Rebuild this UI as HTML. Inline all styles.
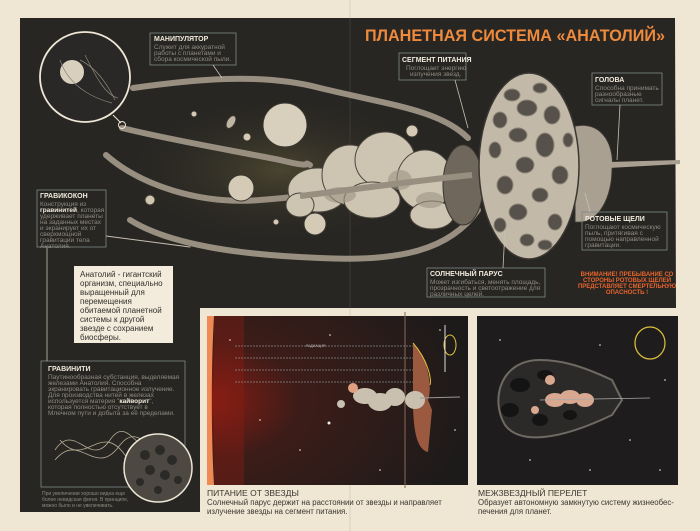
<!DOCTYPE html>
<html><head><meta charset="utf-8">
<style>
html,body{margin:0;padding:0;background:#efe7d3;}
svg{display:block;font-family:"Liberation Sans","DejaVu Sans",sans-serif;}
</style></head>
<body>
<svg width="700" height="531" viewBox="0 0 700 531" xmlns="http://www.w3.org/2000/svg">
<defs>
<radialGradient id="sun" cx="0" cy="0.5" r="1">
<stop offset="0" stop-color="#8a1d14"/><stop offset="0.35" stop-color="#3d1c18"/><stop offset="1" stop-color="#1d1b1a"/>
</radialGradient>
<radialGradient id="glow" cx="0.5" cy="0.5" r="0.5">
<stop offset="0" stop-color="#4a4530"/><stop offset="1" stop-color="#262420" stop-opacity="0"/>
</radialGradient>
</defs>
<rect width="700" height="531" fill="#efe7d3"/>
<line x1="350" y1="0" x2="350" y2="531" stroke="#d9d0bc" stroke-width="1"/>
<path d="M20 18 L675 18 L676 308 L200 308 L200 512 L20 512 Z" fill="#282623"/>
<ellipse cx="280" cy="170" rx="170" ry="80" fill="url(#glow)"/>
<line x1="350" y1="18" x2="350" y2="308" stroke="#3d3a35" stroke-width="1"/>

<text x="365" y="41" font-size="17" font-weight="bold" fill="#ef8a3c" textLength="300" lengthAdjust="spacingAndGlyphs">ПЛАНЕТНАЯ СИСТЕМА «АНАТОЛИЙ»</text>

<g fill="none" stroke-linecap="round">
<path d="M133 88 C190 80 260 72 320 88 C390 105 440 110 468 138" stroke="#988f81" stroke-width="6"/>
<path d="M122 128 C170 140 230 150 280 160 C320 170 300 160 310 165" stroke="#988f81" stroke-width="6"/>
<path d="M106 155 C140 185 200 205 260 200 C330 195 400 180 472 175" stroke="#988f81" stroke-width="6"/>
<path d="M130 220 C170 245 240 255 320 258 C400 262 450 250 478 210" stroke="#988f81" stroke-width="6"/>
<path d="M106 236 L190 247" stroke="#c8c0b0" stroke-width="1"/>
</g>

<g stroke="#3a3630" stroke-width="1">
<circle cx="285" cy="125" r="22" fill="#d8cfbd"/>
<circle cx="241" cy="188" r="13" fill="#d4cab6"/>
<circle cx="315" cy="224" r="11" fill="#d4cab6"/>
<circle cx="412" cy="131" r="6" fill="#d4cab6"/>
<circle cx="194" cy="114" r="3" fill="#d4cab6"/>
<circle cx="247" cy="137" r="4" fill="#d4cab6"/>
<circle cx="276" cy="222" r="3" fill="#d4cab6"/>
<circle cx="150" cy="200" r="5" fill="#cfc6b0"/>
<ellipse cx="231" cy="122" rx="4" ry="7" fill="#bfb5a2" transform="rotate(30 231 122)"/>
</g>

<g fill="#cdc4b2" stroke="#4a453d" stroke-width="1">
<ellipse cx="318" cy="190" rx="30" ry="22"/>
<ellipse cx="350" cy="175" rx="28" ry="30"/>
<ellipse cx="385" cy="160" rx="30" ry="28"/>
<ellipse cx="372" cy="200" rx="28" ry="18"/>
<ellipse cx="425" cy="180" rx="28" ry="30"/>
<ellipse cx="432" cy="215" rx="22" ry="14"/>
<ellipse cx="300" cy="205" rx="14" ry="12"/>
</g>
<g fill="#9f9584" opacity="0.6">
<ellipse cx="340" cy="195" rx="16" ry="8"/><ellipse cx="400" cy="180" rx="12" ry="10"/><ellipse cx="430" cy="200" rx="14" ry="8"/>
</g>
<ellipse cx="463" cy="185" rx="20" ry="40" fill="#6f675c" stroke="#3a3630"/>
<path d="M300 196 C350 190 420 180 472 175" stroke="#988f81" stroke-width="6" fill="none"/>

<path d="M575 126 C605 120 615 150 612 170 C612 195 600 225 575 222 Z" fill="#a9a092" stroke="#3a3630"/>
<path d="M608 162 L680 160 L680 164 L608 168 Z" fill="#a9a092"/>
<ellipse cx="529" cy="166" rx="50" ry="93" fill="#c2b9a9" stroke="#3a3630" stroke-width="1.5"/>
<g fill="#56514a" stroke="#8f8677" stroke-width="1">
<ellipse cx="512" cy="95" rx="8" ry="6"/><ellipse cx="540" cy="88" rx="7" ry="5"/><ellipse cx="527" cy="108" rx="10" ry="8"/>
<ellipse cx="500" cy="120" rx="7" ry="8"/><ellipse cx="552" cy="115" rx="8" ry="9"/><ellipse cx="518" cy="135" rx="9" ry="7"/>
<ellipse cx="545" cy="145" rx="9" ry="12"/><ellipse cx="495" cy="150" rx="6" ry="8"/><ellipse cx="525" cy="165" rx="9" ry="8"/>
<ellipse cx="560" cy="175" rx="8" ry="9"/><ellipse cx="505" cy="185" rx="8" ry="9"/><ellipse cx="540" cy="195" rx="8" ry="7"/>
<ellipse cx="518" cy="212" rx="9" ry="8"/><ellipse cx="555" cy="222" rx="7" ry="8"/><ellipse cx="545" cy="245" rx="7" ry="5"/>
<ellipse cx="500" cy="225" rx="6" ry="7"/><ellipse cx="527" cy="240" rx="7" ry="6"/><ellipse cx="568" cy="140" rx="5" ry="7"/>
</g>

<circle cx="85" cy="77" r="45" fill="#2a2826" stroke="#eee6d6" stroke-width="1.8"/>
<circle cx="72" cy="72" r="12" fill="#d8cfbd"/>
<g fill="none" stroke="#8a857c" stroke-width="0.7">
<path d="M80 60 C100 70 110 90 115 100"/><path d="M85 55 C95 75 105 95 118 98"/><path d="M60 60 C70 90 100 100 112 103"/>
</g>
<line x1="113" y1="115" x2="121" y2="123" stroke="#eee6d6"/>
<circle cx="122" cy="125" r="3.5" fill="none" stroke="#eee6d6"/>

<g fill="none" stroke="#7c8a86" stroke-width="0.8">
<rect x="150" y="33" width="86" height="32"/>
<rect x="399" y="53" width="67" height="27"/>
<rect x="592" y="73" width="70" height="32"/>
<rect x="37" y="190" width="69" height="57"/>
<rect x="582" y="212" width="85" height="38"/>
<rect x="427" y="268" width="118" height="29"/>
<rect x="41" y="361" width="144" height="126"/>
</g>
<g stroke="#c8c0b0" stroke-width="0.8">
<line x1="213" y1="65" x2="222" y2="78"/>
<line x1="455" y1="80" x2="468" y2="128"/>
<line x1="620" y1="105" x2="617" y2="160"/>
<line x1="590" y1="212" x2="585" y2="193"/>
<line x1="503" y1="268" x2="505" y2="230"/>
<line x1="47" y1="247" x2="47" y2="361"/>
</g>
<g font-size="6.5" fill="#8d8a80">
<text x="154" y="41" font-weight="bold" fill="#f1ebdd" font-size="7">МАНИПУЛЯТОР</text>
<text x="154" y="49">Служит для аккуратной</text>
<text x="154" y="55">работы с планетами и</text>
<text x="154" y="61">сбора космической пыли.</text>
<text x="402" y="62" font-weight="bold" fill="#f1ebdd" font-size="7">СЕГМЕНТ ПИТАНИЯ</text>
<text x="406" y="70">Поглощает энергию</text>
<text x="410" y="76">излучения звезд.</text>
<text x="595" y="82" font-weight="bold" fill="#f1ebdd" font-size="7">ГОЛОВА</text>
<text x="595" y="90">Способна принимать</text>
<text x="595" y="96">разнообразные</text>
<text x="595" y="102">сигналы планет.</text>
<text x="40" y="198" font-weight="bold" fill="#f1ebdd" font-size="7">ГРАВИКОКОН</text>
<text x="40" y="206">Конструкция из</text>
<text x="40" y="212"><tspan fill="#f1ebdd" font-weight="bold">гравинитей</tspan>, которая</text>
<text x="40" y="218">удерживает планеты</text>
<text x="40" y="224">на заданных местах</text>
<text x="40" y="230">и экранирует их от</text>
<text x="40" y="236">сверхмощной</text>
<text x="40" y="242">гравитации тела</text>
<text x="40" y="248">Анатолия.</text>
<text x="585" y="221" font-weight="bold" fill="#f1ebdd" font-size="7">РОТОВЫЕ ЩЕЛИ</text>
<text x="585" y="229">Поглощают космическую</text>
<text x="585" y="235">пыль, притягивая с</text>
<text x="585" y="241">помощью направленной</text>
<text x="585" y="247">гравитации.</text>
<text x="430" y="276" font-weight="bold" fill="#f1ebdd" font-size="7">СОЛНЕЧНЫЙ ПАРУС</text>
<text x="430" y="284">Может изгибаться, менять площадь,</text>
<text x="430" y="290">прозрачность и светоотражение для</text>
<text x="430" y="296">различных целей.</text>
<text x="48" y="371" font-weight="bold" fill="#f1ebdd" font-size="7">ГРАВИНИТИ</text>
<text x="48" y="379">Паутинообразная субстанция, выделяемая</text>
<text x="48" y="385">железами Анатолия. Способна</text>
<text x="48" y="391">экранировать гравитационное излучение.</text>
<text x="48" y="397">Для производства нитей в железах</text>
<text x="48" y="403">используется материя "<tspan fill="#f1ebdd" font-weight="bold">кайворит</tspan>",</text>
<text x="48" y="409">которая полностью отсутствует в</text>
<text x="48" y="415">Млечном пути и добыта за её пределами.</text>
<text x="42" y="495" font-size="5">При увеличении хорошо видна еще</text>
<text x="42" y="501" font-size="5">более невидская фигня. В принципе,</text>
<text x="42" y="507" font-size="5">можно было и не увеличивать.</text>
</g>
<g font-size="6" font-weight="bold" fill="#e8642c" text-anchor="middle">
<text x="627" y="276">ВНИМАНИЕ! ПРЕБЫВАНИЕ СО</text>
<text x="627" y="282">СТОРОНЫ РОТОВЫХ ЩЕЛЕЙ</text>
<text x="627" y="288">ПРЕДСТАВЛЯЕТ СМЕРТЕЛЬНУЮ</text>
<text x="627" y="294">ОПАСНОСТЬ !</text>
</g>

<g fill="none" stroke="#d9cdb0" stroke-width="0.8" opacity="0.8">
<path d="M55 450 C75 420 90 470 110 440 C130 410 140 470 165 440"/>
<path d="M55 460 C80 430 95 480 120 445 C140 420 150 460 170 450"/>
<path d="M60 440 C85 470 100 420 125 455 C145 480 150 430 175 445"/>
</g>
<circle cx="158" cy="468" r="34" fill="#4d4942" stroke="#eee6d6" stroke-width="1.5"/>
<g fill="#2c2a27">
<circle cx="145" cy="455" r="5"/><circle cx="160" cy="450" r="5"/><circle cx="172" cy="460" r="5"/><circle cx="150" cy="470" r="5"/><circle cx="165" cy="475" r="5"/><circle cx="140" cy="482" r="4"/><circle cx="178" cy="480" r="4"/><circle cx="158" cy="490" r="4"/>
</g>

<rect x="74" y="266" width="99" height="77" fill="#f3ecdd"/>
<g font-size="8" fill="#33302b">
<text x="80" y="277">Анатолий - гигантский</text>
<text x="80" y="286">организм, специально</text>
<text x="80" y="295">выращенный для</text>
<text x="80" y="304">перемещения</text>
<text x="80" y="313">обитаемой планетной</text>
<text x="80" y="322">системы к другой</text>
<text x="80" y="331">звезде с сохранием</text>
<text x="80" y="340">биосферы.</text>
</g>

<rect x="207" y="316" width="261" height="169" fill="url(#sun)"/>
<path d="M207 316 L214 316 C211 370 211 430 214 485 L207 485 Z" fill="#f08a55"/>
<rect x="214" y="316" width="30" height="169" fill="#8a1d14" opacity="0.4"/>
<g stroke="#a7c0bf" stroke-width="0.6" stroke-dasharray="2 1">
<line x1="235" y1="346" x2="413" y2="346"/><line x1="235" y1="358" x2="413" y2="358"/>
<line x1="235" y1="370" x2="413" y2="370"/><line x1="235" y1="382" x2="413" y2="382"/>
</g>
<text x="306" y="347" font-size="3.5" fill="#bbb">РАДИАЦИЯ</text>
<path d="M413 343 C430 360 432 390 428 400 L432 410 L428 452 C420 450 413 440 413 400 Z" fill="#9b5a40"/>
<path d="M413 343 C428 360 432 380 430 385" stroke="#e0c23c" fill="none"/>
<line x1="405" y1="312" x2="405" y2="488" stroke="#8a6a58" stroke-width="1"/>
<g fill="#c9c0b0">
<ellipse cx="365" cy="396" rx="12" ry="8"/><ellipse cx="380" cy="402" rx="12" ry="9"/><ellipse cx="395" cy="397" rx="10" ry="9"/><ellipse cx="415" cy="400" rx="10" ry="9"/>
<circle cx="353" cy="388" r="5" fill="#e0a080"/><circle cx="341" cy="404" r="4"/>
</g>
<line x1="420" y1="398" x2="460" y2="397" stroke="#999"/>
<ellipse cx="450" cy="345" rx="6" ry="10" fill="none" stroke="#e0c23c"/>
<line x1="445" y1="325" x2="445" y2="372" stroke="#ddd"/>
<rect x="477" y="316" width="201" height="169" fill="#1e1c1c"/>
<path d="M540 360 C500 360 490 400 505 425 C520 445 560 440 612 415 L622 400 L612 380 C580 365 560 360 540 360 Z" fill="#2c2a28" stroke="#6e6963" stroke-width="2"/>
<g fill="#151414">
<ellipse cx="520" cy="385" rx="10" ry="7"/><ellipse cx="545" cy="375" rx="8" ry="5"/><ellipse cx="510" cy="410" rx="9" ry="7"/><ellipse cx="540" cy="420" rx="8" ry="6"/><ellipse cx="570" cy="415" rx="7" ry="5"/>
</g>
<g fill="#d8a890">
<ellipse cx="555" cy="400" rx="10" ry="7"/><ellipse cx="570" cy="397" rx="10" ry="7"/><ellipse cx="585" cy="400" rx="9" ry="7"/><circle cx="550" cy="380" r="5"/><circle cx="535" cy="410" r="4"/>
</g>
<line x1="540" y1="400" x2="650" y2="398" stroke="#aaa" stroke-width="0.8"/>
<ellipse cx="650" cy="343" rx="15" ry="16" fill="none" stroke="#e0c23c" stroke-width="1.2"/>
<g fill="#eee">
<circle cx="230" cy="340" r="0.8"/><circle cx="260" cy="420" r="0.8"/><circle cx="300" cy="450" r="0.8"/><circle cx="330" cy="335" r="0.8"/><circle cx="380" cy="470" r="0.8"/><circle cx="440" cy="330" r="0.8"/><circle cx="455" cy="430" r="0.8"/><circle cx="329" cy="423" r="1.5"/>
<circle cx="500" cy="340" r="0.8"/><circle cx="530" cy="460" r="0.8"/><circle cx="600" cy="345" r="0.8"/><circle cx="630" cy="440" r="0.8"/><circle cx="660" cy="470" r="0.8"/><circle cx="665" cy="380" r="0.8"/><circle cx="590" cy="470" r="0.8"/>
</g>
<g font-size="8.5" fill="#3a3530">
<text x="207" y="496">ПИТАНИЕ ОТ ЗВЕЗДЫ</text>
<text x="207" y="505" font-size="7.8">Солнечный парус держит на расстоянии от звезды и  направляет</text>
<text x="207" y="514" font-size="7.8">излучение звезды на сегмент питания.</text>
<text x="478" y="496">МЕЖЗВЕЗДНЫЙ ПЕРЕЛЕТ</text>
<text x="478" y="505" font-size="7.8">Образует автономную замкнутую систему жизнеобес-</text>
<text x="478" y="514" font-size="7.8">печения для планет.</text>
</g>
</svg>
</body></html>
